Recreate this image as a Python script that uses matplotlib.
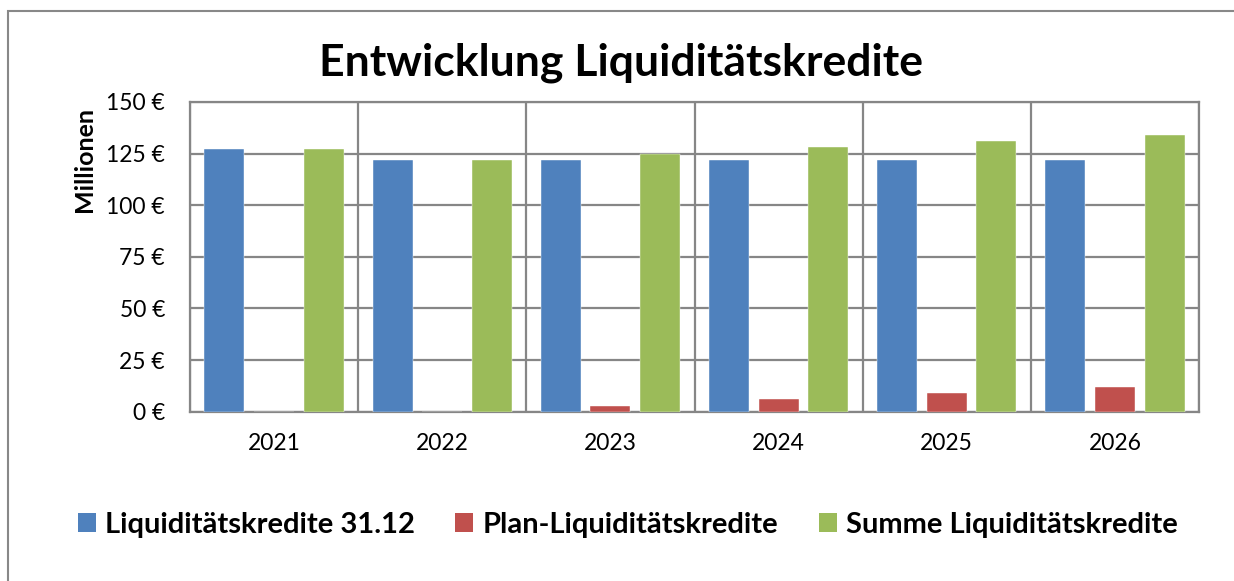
import numpy as np
import matplotlib
matplotlib.use("Agg")
import matplotlib.pyplot as plt
from matplotlib.patches import Rectangle, Patch

plt.rcParams['font.family'] = ['Lato', 'DejaVu Sans']

# Daten (Millionen €)
years = ['2021', '2022', '2023', '2024', '2025', '2026']
kredite_3112 = [127, 122, 122, 122, 122, 122]
plan_kredite = [0, 0, 3, 6, 9, 12]
summe_kredite = [127, 122, 125, 128, 131, 134]

labels = ['Liquiditätskredite 31.12', 'Plan-Liquiditätskredite', 'Summe Liquiditätskredite']
colors = ['#4F81BD', '#C0504D', '#9BBB59']
grid_col = '#868686'

fig = plt.figure(figsize=(12.34, 5.81), dpi=100)
ax = fig.add_axes([190 / 1234, 1 - 411.7 / 581, (1199 - 190) / 1234, (411.7 - 102) / 581])

x = np.arange(len(years))
w = 0.238
off = 0.295
for i, vals in enumerate([kredite_3112, plan_kredite, summe_kredite]):
    ax.bar(x + (i - 1) * off, vals, width=w, color=colors[i], zorder=3,
           edgecolor='white', linewidth=0.3)

ax.set_xlim(-0.5, len(years) - 0.5)
ax.set_ylim(0, 150)
ax.set_yticks(range(0, 151, 25))
ax.set_yticklabels([f'{v} €' for v in range(0, 151, 25)])
ax.set_xticks(x)
ax.set_xticklabels(years)
ax.set_xticks(np.arange(-0.5, len(years), 1), minor=True)

ax.grid(axis='y', which='major', color=grid_col, linewidth=1.6, zorder=0)
ax.grid(axis='x', which='minor', color=grid_col, linewidth=1.6, zorder=0)
ax.tick_params(axis='both', which='both', length=0, labelsize=16.5)
ax.tick_params(axis='y', pad=18)
ax.tick_params(axis='x', pad=15)
for s in ax.spines.values():
    s.set_color(grid_col)
    s.set_linewidth(1.6)

fig.text(0.503, 1 - 63 / 581, 'Entwicklung Liquiditätskredite', ha='center', va='center',
         fontsize=32, fontweight='bold')
fig.text(85 / 1234, 1 - 160 / 581, 'Millionen', rotation=90, ha='center', va='center',
         fontsize=18, fontweight='bold')

handles = [Patch(facecolor=c, edgecolor='none') for c in colors]
fig.legend(handles, labels, loc='center', bbox_to_anchor=(627.5 / 1234, 1 - 525 / 581),
           ncol=3, frameon=False, handlelength=0.62, handleheight=0.62,
           handletextpad=0.3, columnspacing=1.4,
           prop={'size': 21, 'weight': 'bold'})

# Rahmen
fig.patches.append(Rectangle((8 / 1234, -0.1), 1.1, 1 - 11 / 581 + 0.1,
                             transform=fig.transFigure, fill=False,
                             edgecolor='#888888', linewidth=1.5))

fig.savefig('out.png', dpi=100)
